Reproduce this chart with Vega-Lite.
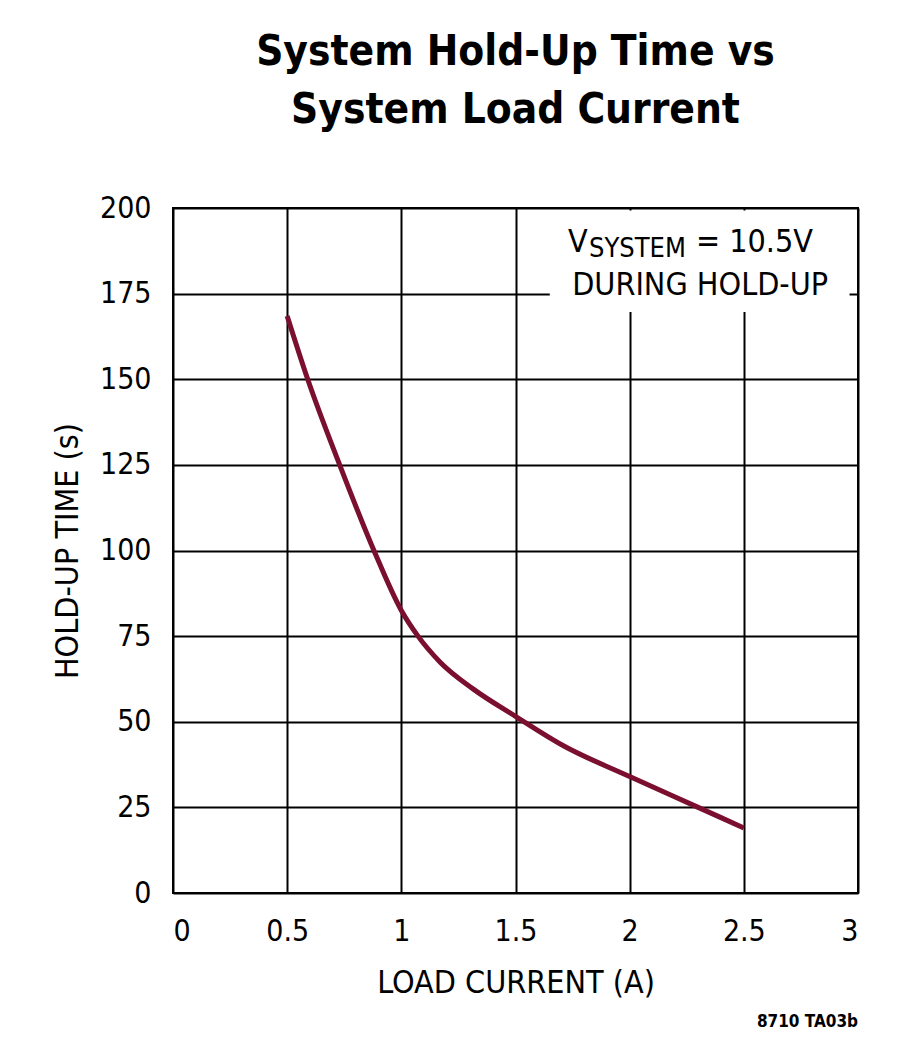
{
  "$schema": "https://vega.github.io/schema/vega-lite/v6.json",
  "autosize": "none",
  "width": 685,
  "height": 685,
  "padding": {"left": 173, "top": 208, "right": 42, "bottom": 162},
  "background": "white",
  "title": {
    "text": ["System Hold-Up Time vs", "System Load Current"],
    "font": "DejaVu Sans Condensed, Liberation Sans, sans-serif",
    "fontSize": 42,
    "fontWeight": "bold",
    "lineHeight": 58,
    "color": "black",
    "anchor": "middle",
    "frame": "group",
    "offset": 61
  },
  "config": {
    "view": {"stroke": "black", "strokeWidth": 2},
    "axis": {
      "labelFont": "DejaVu Sans Condensed, Liberation Sans, sans-serif",
      "titleFont": "DejaVu Sans Condensed, Liberation Sans, sans-serif",
      "labelFontSize": 30,
      "titleFontSize": 32,
      "titleFontWeight": "normal",
      "labelColor": "black",
      "titleColor": "black",
      "gridColor": "black",
      "gridWidth": 2,
      "gridOpacity": 1,
      "domain": false,
      "ticks": false
    }
  },
  "datasets": {
    "curve": [
      {"current": 0.5, "time": 168.5},
      {"current": 0.59, "time": 150},
      {"current": 0.73, "time": 125},
      {"current": 0.88, "time": 100},
      {"current": 1.0, "time": 82.5},
      {"current": 1.073, "time": 75},
      {"current": 1.17, "time": 67.4},
      {"current": 1.314, "time": 59.6},
      {"current": 1.5, "time": 51.6},
      {"current": 1.71, "time": 43},
      {"current": 2.0, "time": 34},
      {"current": 2.3, "time": 25},
      {"current": 2.5, "time": 19}
    ],
    "box": [{"x1": 1.65, "x2": 2.963, "y1": 169.6, "y2": 199.3}],
    "note": [
      {"current": 1.73, "time": 187.2, "part": "V", "size": "main"},
      {"current": 1.822, "time": 185.7, "part": "SYSTEM", "size": "sub"},
      {"current": 2.29, "time": 187.2, "part": "= 10.5V", "size": "main"},
      {"current": 1.748, "time": 174.6, "part": "DURING HOLD-UP", "size": "main"}
    ],
    "code": [{"current": 3, "time": -39, "part": "8710 TA03b"}]
  },
  "layer": [
    {
      "data": {"name": "curve"},
      "mark": {"type": "line", "color": "#7a0f30", "strokeWidth": 5, "interpolate": "monotone"},
      "encoding": {
        "x": {
          "field": "current",
          "type": "quantitative",
          "title": "LOAD CURRENT (A)",
          "scale": {"domain": [0, 3], "nice": false},
          "axis": {"values": [0, 0.5, 1, 1.5, 2, 2.5, 3], "format": "~g", "labelPadding": 23, "titlePadding": 21}
        },
        "y": {
          "field": "time",
          "type": "quantitative",
          "title": "HOLD-UP TIME (s)",
          "scale": {"domain": [0, 200], "nice": false},
          "axis": {"values": [0, 25, 50, 75, 100, 125, 150, 175, 200], "labelPadding": 22, "titlePadding": 15}
        }
      }
    },
    {
      "data": {"name": "box"},
      "mark": {"type": "rect", "color": "white"},
      "encoding": {
        "x": {"field": "x1", "type": "quantitative"},
        "x2": {"field": "x2"},
        "y": {"field": "y1", "type": "quantitative"},
        "y2": {"field": "y2"}
      }
    },
    {
      "data": {"name": "note"},
      "transform": [{"filter": "datum.size == 'main'"}],
      "mark": {"type": "text", "align": "left", "baseline": "alphabetic", "font": "DejaVu Sans Condensed, Liberation Sans, sans-serif", "fontSize": 32, "color": "black"},
      "encoding": {
        "x": {"field": "current", "type": "quantitative"},
        "y": {"field": "time", "type": "quantitative"},
        "text": {"field": "part"}
      }
    },
    {
      "data": {"name": "note"},
      "transform": [{"filter": "datum.size == 'sub'"}],
      "mark": {"type": "text", "align": "left", "baseline": "alphabetic", "font": "DejaVu Sans Condensed, Liberation Sans, sans-serif", "fontSize": 27, "color": "black"},
      "encoding": {
        "x": {"field": "current", "type": "quantitative"},
        "y": {"field": "time", "type": "quantitative"},
        "text": {"field": "part"}
      }
    },
    {
      "data": {"name": "code"},
      "mark": {"type": "text", "align": "right", "baseline": "alphabetic", "font": "DejaVu Sans Condensed, Liberation Sans, sans-serif", "fontSize": 17, "fontWeight": "bold", "color": "black"},
      "encoding": {
        "x": {"field": "current", "type": "quantitative"},
        "y": {"field": "time", "type": "quantitative"},
        "text": {"field": "part"}
      }
    }
  ]
}
